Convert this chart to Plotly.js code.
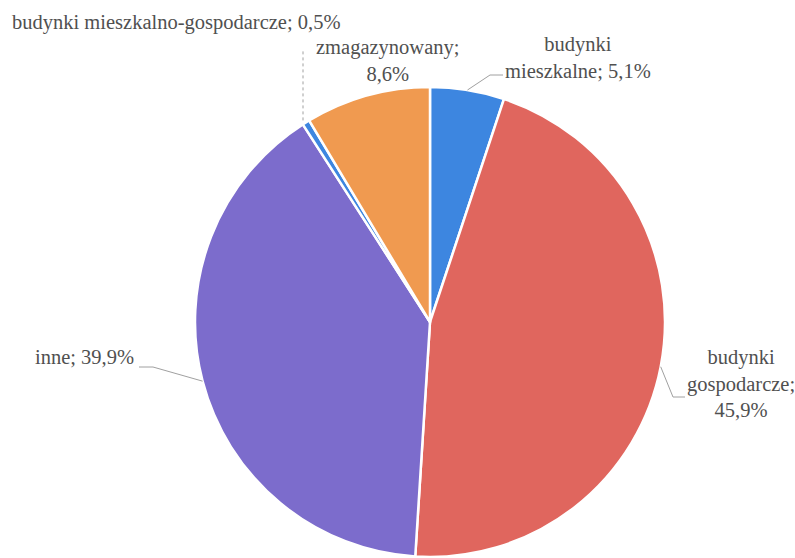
<!DOCTYPE html>
<html>
<head>
<meta charset="utf-8">
<script src="https://cdn.plot.ly/plotly-3.0.1.min.js"></script>
<style>html,body{margin:0;padding:0;background:#fff;}#chart{width:795px;height:558px;}</style>
</head>
<body>
<div id="chart"></div>
<script>
// Data
const categories = ["budynki mieszkalne", "budynki gospodarcze", "inne", "budynki mieszkalno-gospodarcze", "zmagazynowany"];
const values = [5.1, 45.9, 39.9, 0.5, 8.6];
const labelTexts = ["budynki<br>mieszkalne; 5,1%", "budynki<br>gospodarcze;<br>45,9%", "inne; 39,9%", "budynki mieszkalno-gospodarcze; 0,5%", "zmagazynowany;<br>8,6%"];
const colors = ["#3d86e0", "#e0665e", "#7c6ccc", "#3d86e0", "#f09a50"];

const W = 795, H = 558;
const cx = 430, cy = 322, R = 235;

// label placements (pixel): text centre, elbow point, line end
const labelLayout = [
  {tx: 578, ty: 58, elbow: [490, 75], end: [503, 75]},
  {tx: 741, ty: 383, elbow: [673, 397], end: [685, 397]},
  {tx: 84, ty: 357, elbow: [153, 367], end: [139, 367]},
  {tx: 176, ty: 22, elbow: null, end: [303, 50]},
  {tx: 387, ty: 61, elbow: null, end: null}
];

const px = x => x / W;
const py = y => 1 - y / H;

const total = values.reduce((a, b) => a + b, 0);
let cum = 0;
const annotations = [];
const shapes = [];
values.forEach((v, i) => {
  const mid = (cum + v / 2) / total * 2 * Math.PI;
  cum += v;
  const ex = cx + R * Math.sin(mid);
  const ey = cy - R * Math.cos(mid);
  const L = labelLayout[i];
  annotations.push({
    text: labelTexts[i], xref: "paper", yref: "paper",
    x: px(L.tx), y: py(L.ty), xanchor: "center", yanchor: "middle",
    showarrow: false, align: "center",
    font: {family: "Liberation Serif", size: 20.5, color: "#505050"}
  });
  if (L.end) {
    let path = `M ${px(ex)} ${py(ey)}`;
    if (L.elbow) path += ` L ${px(L.elbow[0])} ${py(L.elbow[1])}`;
    else path = `M ${px(L.end[0])} ${py(ey - 2)}`;
    path += ` L ${px(L.end[0])} ${py(L.end[1])}`;
    shapes.push({type: "path", xref: "paper", yref: "paper", path: path,
      line: {color: "#a0a0a0", width: 1, dash: L.elbow ? "solid" : "dot"}});
  }
});

const trace = {
  type: "pie",
  labels: categories,
  values: values,
  sort: false,
  direction: "clockwise",
  rotation: 0,
  textinfo: "none",
  hoverinfo: "label+percent",
  marker: {colors: colors, line: {color: "#ffffff", width: 2.5}},
  domain: {x: [195 / W, 665 / W], y: [1 - 557 / H, 1 - 87 / H]}
};

const layout = {
  width: W, height: H,
  margin: {l: 0, r: 0, t: 0, b: 0},
  paper_bgcolor: "#ffffff",
  showlegend: false,
  font: {family: "Liberation Serif"},
  annotations: annotations,
  shapes: shapes
};

Plotly.newPlot("chart", [trace], layout, {displayModeBar: false, staticPlot: true});
</script>
</body>
</html>
